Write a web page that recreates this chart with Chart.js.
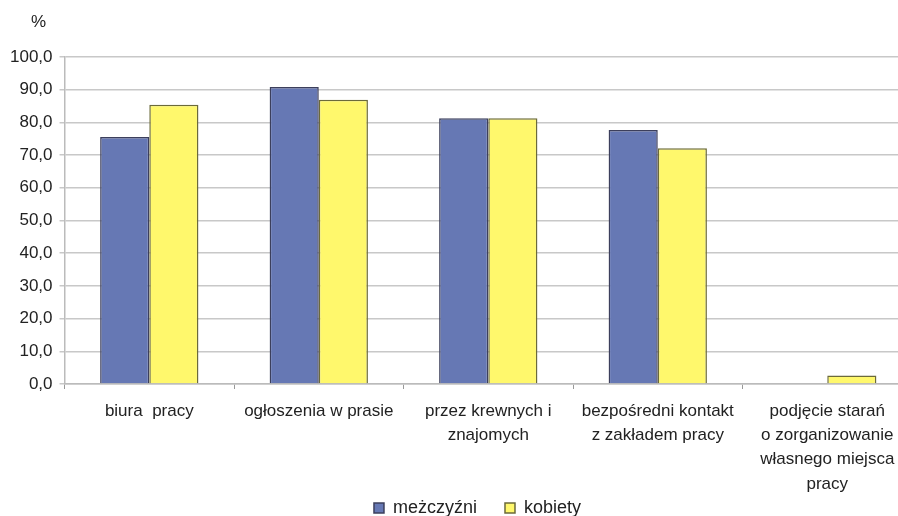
<!DOCTYPE html>
<html>
<head>
<meta charset="utf-8">
<script src="https://cdn.jsdelivr.net/npm/chart.js@4"></script>
<style>
  html, body { margin: 0; padding: 0; background: #fff; overflow: hidden; }
  #wrap { position: relative; width: 912px; height: 516px; }
</style>
</head>
<body>
<div id="wrap"><canvas id="sposobyChart"></canvas></div>
<script>
// kategorie i wartości (%)
var kategorie = [
    ['biura  pracy'],
    ['ogłoszenia w prasie'],
    ['przez krewnych i', 'znajomych'],
    ['bezpośredni kontakt', 'z zakładem pracy'],
    ['podjęcie starań', 'o zorganizowanie', 'własnego miejsca', 'pracy']
];
var mezczyzni = [75.5, 90.8, 81.3, 77.7, 0];
var kobiety = [85.4, 86.9, 81.3, 72.1, 2.6];
var osY = [0, 10, 20, 30, 40, 50, 60, 70, 80, 90, 100];

var fontNazwa = '"Liberation Sans", Arial, sans-serif';

// znak % nad osią Y
var procentPlugin = {
    id: 'procent',
    afterDraw: function(chart) {
        var c = chart.ctx;
        c.save();
        c.font = '17px ' + fontNazwa;
        c.fillStyle = '#222';
        c.textAlign = 'left';
        c.textBaseline = 'middle';
        c.fillText('%', 31, 22);
        c.restore();
    }
};

// legenda: duże odstępy poziome, ale niska; etykiety osi X nie są przycinane
var ukladPlugin = {
    id: 'uklad',
    beforeInit: function(chart) {
        var legenda = chart.legend;
        var fitOrg = legenda.fit;
        legenda.fit = function() {
            fitOrg.call(this);
            this.height = 45;
        };
    },
    afterLayout: function(chart) {
        chart.scales.x.bottom = chart.height;
        chart.legend.left += 20;
        chart.legend.right += 20;
    }
};

var ctx = document.getElementById('sposobyChart').getContext('2d');
var chart = new Chart(ctx, {
    type: 'bar',
    data: {
        labels: kategorie,
        datasets: [{
            label: 'meżczyźni',
            data: mezczyzni,
            backgroundColor: '#6678b4',
            borderColor: '#3c3f5c',
            borderWidth: 1.5,
            borderSkipped: 'bottom'
        }, {
            label: 'kobiety',
            data: kobiety,
            backgroundColor: '#fff86c',
            borderColor: '#6b6a3a',
            borderWidth: 1.5,
            borderSkipped: 'bottom'
        }]
    },
    options: {
        responsive: true,
        maintainAspectRatio: false,
        animation: false,
        layout: { padding: { top: 57, right: 0, left: 3, bottom: 0 } },
        datasets: { bar: { categoryPercentage: 0.58, barPercentage: 1.0 } },
        scales: {
            x: {
                afterFit: function(scale) { scale.height = 87; },
                grid: { display: true, drawOnChartArea: false, offset: true, tickLength: 5, color: '#999' },
                border: { color: '#bbb', width: 1.5 },
                ticks: {
                    color: '#222',
                    font: { family: fontNazwa, size: 17, lineHeight: 1.43 },
                    padding: 10,
                    maxRotation: 0,
                    autoSkip: false
                }
            },
            y: {
                min: 0,
                max: 100,
                afterBuildTicks: function(axis) {
                    axis.ticks = osY.map(function(v) { return { value: v }; });
                },
                grid: { color: '#c8c8c8', lineWidth: 1.5, tickLength: 5 },
                border: { color: '#bbb', width: 1.5 },
                ticks: {
                    color: '#222',
                    font: { family: fontNazwa, size: 17 },
                    padding: 7,
                    callback: function(v) { return v.toFixed(1).replace('.', ','); }
                }
            }
        },
        plugins: {
            legend: {
                position: 'bottom',
                labels: {
                    color: '#222',
                    font: { family: fontNazwa, size: 18, lineHeight: 1 },
                    boxWidth: 10,
                    boxHeight: 10,
                    padding: 28
                }
            },
            tooltip: { enabled: false }
        }
    },
    plugins: [procentPlugin, ukladPlugin]
});
</script>
</body>
</html>
